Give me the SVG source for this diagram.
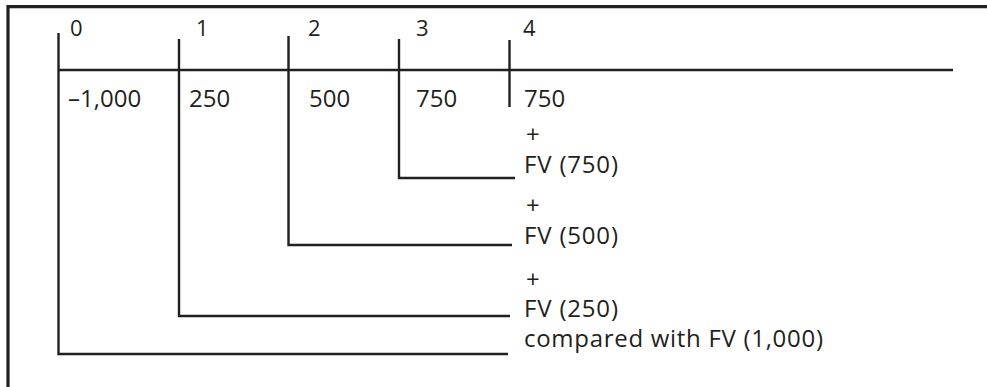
<svg xmlns="http://www.w3.org/2000/svg" width="987" height="387" viewBox="0 0 987 387">
  <style>
    .ink { stroke: #231f20; fill: none; stroke-linecap: butt; }
    .frame { stroke-width: 3.2; }
    .axis { stroke-width: 2.6; }
    .tick { stroke-width: 2.4; }
    text { font-family: "Open Sans", Lato, "Noto Sans", sans-serif; fill: #231f20; font-size: 24px; }
    .period { font-size: 22px; }
  </style>
  <rect width="987" height="387" fill="#ffffff"/>

  <!-- open frame: top and left edges -->
  <g id="frame">
    <path class="ink frame" d="M8 387 V6.6 H987"/>
  </g>

  <!-- time line with period ticks -->
  <g id="timeline">
    <path class="ink axis" d="M58 70 H953"/>
    <text class="period" x="70" y="36">0</text>
    <text class="period" x="196" y="36">1</text>
    <text class="period" x="308" y="36">2</text>
    <text class="period" x="416" y="36">3</text>
    <text class="period" x="523" y="36">4</text>
  </g>

  <g id="cf0"><text x="68" y="107">–1,000</text></g>
  <g id="cf1"><text x="189" y="107">250</text></g>
  <g id="cf2"><text x="309" y="107">500</text></g>
  <g id="cf3"><text x="416" y="107">750</text></g>
  <g id="cf4"><text x="524" y="107">750</text></g>

  <!-- compounding leaders carrying each flow to period 4 -->
  <g id="connectors">
    <path class="ink tick" d="M509.5 40 V107"/>
    <path class="ink tick" d="M399 39 V178 H515"/>
    <path class="ink tick" d="M288.5 36 V245 H512"/>
    <path class="ink tick" d="M179 39 V316 H510"/>
    <path class="ink tick" d="M58.5 33 V354 H508"/>
  </g>

  <g id="fv750">
    <text x="526" y="143">+</text>
    <text x="524" y="173" textLength="94" lengthAdjust="spacing">FV (750)</text>
  </g>
  <g id="fv500">
    <text x="526" y="214">+</text>
    <text x="524" y="244" textLength="94" lengthAdjust="spacing">FV (500)</text>
  </g>
  <g id="fv250">
    <text x="526" y="288">+</text>
    <text x="524" y="317" textLength="94" lengthAdjust="spacing">FV (250)</text>
  </g>
  <g id="fv1000">
    <text x="524" y="347" textLength="299" lengthAdjust="spacing">compared with FV (1,000)</text>
  </g>
</svg>
